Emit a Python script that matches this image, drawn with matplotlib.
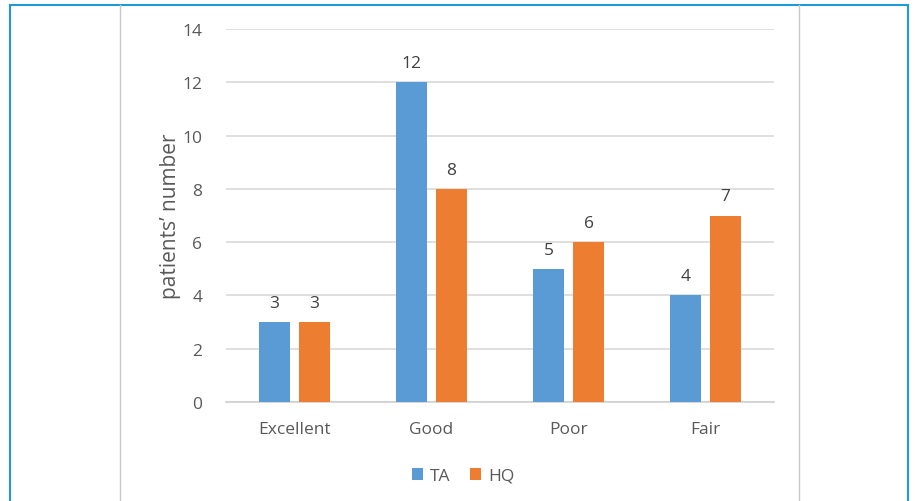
import matplotlib.pyplot as plt
import numpy as np
from matplotlib.patches import Rectangle
from matplotlib.lines import Line2D

categories = ['Excellent', 'Good', 'Poor', 'Fair']
ta_values = [3, 12, 5, 4]
hq_values = [3, 8, 6, 7]
y_ticks = [0, 2, 4, 6, 8, 10, 12, 14]

blue = '#5B9BD5'
orange = '#ED7D31'
text_col = '#595959'

plt.rcParams['font.family'] = ['Open Sans', 'DejaVu Sans']

W, H = 915, 502
fig = plt.figure(figsize=(W / 100, H / 100), dpi=100)

# outer frame and the cropped chart-area edges
fig.add_artist(Rectangle((10 / W, -0.05), 898 / W, 1.05 - 6 / H, transform=fig.transFigure,
                         fill=False, edgecolor='#1E9BD7', linewidth=1.5))
for xp in (120, 799):
    fig.add_artist(Line2D([xp / W, xp / W], [0, 1 - 6 / H], transform=fig.transFigure,
                          color='#C8C8C8', linewidth=1))

ax = fig.add_axes([226 / W, 1 - 403 / H, (774 - 226) / W, (403 - 30) / H])
x = np.arange(len(categories))
off = 0.146
width = 0.226
b1 = ax.bar(x - off, ta_values, width, color=blue, label='TA', zorder=3)
b2 = ax.bar(x + off, hq_values, width, color=orange, label='HQ', zorder=3)

for bars in (b1, b2):
    ax.bar_label(bars, padding=8, fontsize=12.5, color='#404040')

ax.set_xlim(-0.5, len(categories) - 0.5)
ax.set_ylim(0, 14)
ax.set_yticks(y_ticks)
ax.set_xticks(x)
ax.set_xticklabels(categories)
ax.tick_params(axis='both', length=0, labelsize=12.5, colors=text_col)
ax.tick_params(axis='y', pad=17)
ax.tick_params(axis='x', pad=14)
ax.grid(axis='y', color='#D9D9D9', linewidth=1.2, zorder=0)
for s in ('top', 'right', 'left'):
    ax.spines[s].set_visible(False)
ax.spines['bottom'].set_color('#D0D0D0')
ax.spines['bottom'].set_linewidth(1.2)

ax.set_ylabel("patients\u2019 number", fontsize=15, color=text_col, labelpad=1)

ax.legend(loc='center', bbox_to_anchor=(463 / W, 1 - 477 / H), bbox_transform=fig.transFigure,
          ncol=2, frameon=False, fontsize=12.5, labelcolor=text_col,
          handlelength=0.65, handleheight=0.65, handletextpad=0.4, columnspacing=1.1)

fig.savefig('out.png', dpi=100)
